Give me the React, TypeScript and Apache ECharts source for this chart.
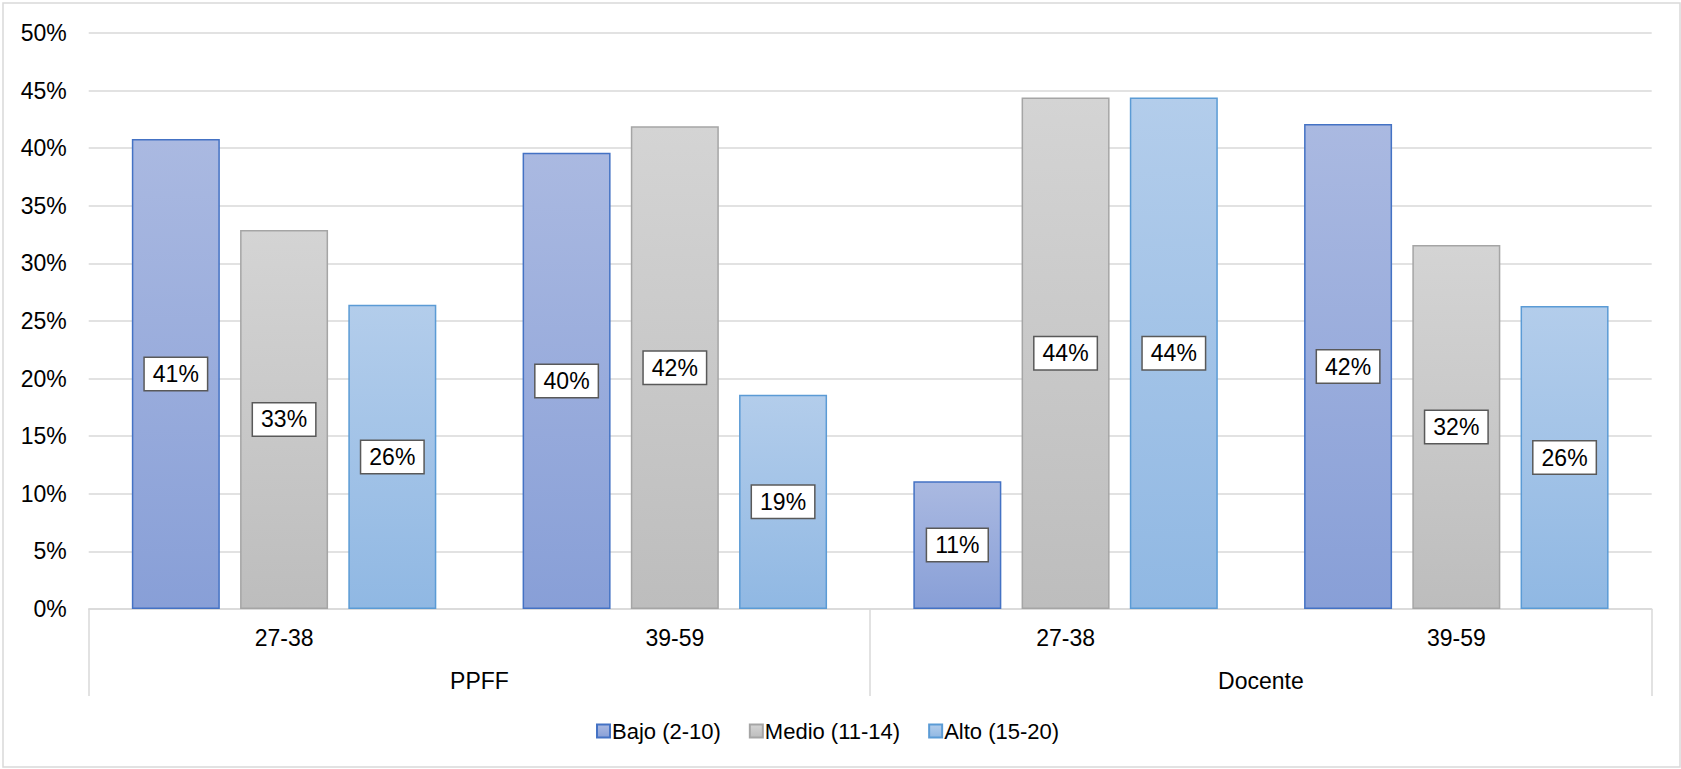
import React, { useEffect, useRef } from "react";
import * as echarts from "echarts";

const ageGroups = ["27-38", "39-59", "27-38", "39-59"];
const roles = ["PPFF", "Docente"];
const seriesNames = ["Bajo (2-10)", "Medio (11-14)", "Alto (15-20)"];
const bajo = [40.8, 39.6, 11.1, 42.1];
const medio = [32.9, 41.9, 44.4, 31.6];
const alto = [26.4, 18.6, 44.4, 26.3];
const yTicks = { min: 0, max: 50, interval: 5 };

const styles = [
  { top: "#AAB9E1", bottom: "#889FD7", border: "#4472C4" },
  { top: "#D4D4D4", bottom: "#BDBDBD", border: "#A5A5A5" },
  { top: "#B3CDEB", bottom: "#90B8E3", border: "#5B9BD5" },
];

export default function App() {
  const ref = useRef<HTMLDivElement>(null);
  useEffect(() => {
    if (!ref.current) return;
    const chart = echarts.init(ref.current, null, { renderer: "svg" });
    const font = "Liberation Sans, Arial, sans-serif";
    const data = [bajo, medio, alto];
    const series = data.map((vals, i) => ({
      name: seriesNames[i],
      type: "bar",
      xAxisIndex: 0,
      data: vals,
      barWidth: 88,
      barGap: "23%",
      itemStyle: {
        color: new echarts.graphic.LinearGradient(0, 0, 0, 1, [
          { offset: 0, color: styles[i].top },
          { offset: 1, color: styles[i].bottom },
        ]),
        borderColor: styles[i].border,
        borderWidth: 1.5,
      },
      label: {
        show: true,
        position: "inside",
        formatter: (p: any) => Math.round(p.value) + "%",
        backgroundColor: "#FFFFFF",
        borderColor: "#595959",
        borderWidth: 1.5,
        padding: [5, 8, 4, 8],
        fontSize: 23,
        fontFamily: font,
        color: "#000000",
      },
    }));
    chart.setOption({
      animation: false,
      backgroundColor: "#FFFFFF",
      textStyle: { fontFamily: font },
      graphic: [
        {
          type: "rect",
          shape: { x: 3, y: 3, width: 1677, height: 764 },
          style: { fill: "none", stroke: "#D9D9D9", lineWidth: 1.5 },
          silent: true,
        },
      ],
      grid: { left: 88.7, right: 29.3, top: 33, bottom: 160, containLabel: false },
      legend: {
        left: 591,
        top: 715,
        itemWidth: 13,
        itemHeight: 13,
        itemGap: 28,
        icon: "rect",
        textStyle: { fontSize: 22, fontFamily: font, color: "#000000", padding: [0, 0, 0, -3] },
        data: seriesNames,
      },
      xAxis: [
        {
          type: "category",
          data: ageGroups,
          position: "bottom",
          axisLine: { show: false },
          axisTick: { show: false },
          axisLabel: { fontSize: 23, color: "#000000", margin: 17, fontFamily: font },
        },
        {
          type: "category",
          data: roles,
          position: "bottom",
          axisLine: { show: true, lineStyle: { color: "#D9D9D9", width: 1.5 } },
          axisTick: { show: true, length: 87, lineStyle: { color: "#D9D9D9", width: 1.5 } },
          axisLabel: { fontSize: 23, color: "#000000", margin: 60, fontFamily: font },
        },
      ],
      yAxis: {
        type: "value",
        min: yTicks.min,
        max: yTicks.max,
        interval: yTicks.interval,
        axisLine: { show: false },
        axisTick: { show: false },
        axisLabel: { formatter: "{value}%", fontSize: 23, color: "#000000", margin: 22, fontFamily: font },
        splitLine: { lineStyle: { color: "#D9D9D9", width: 1.5 } },
      },
      series,
    });
    return () => chart.dispose();
  }, []);
  return (
    <div
      ref={ref}
      style={{ position: "fixed", left: 0, top: 0, width: 1681, height: 769 }}
    />
  );
}
